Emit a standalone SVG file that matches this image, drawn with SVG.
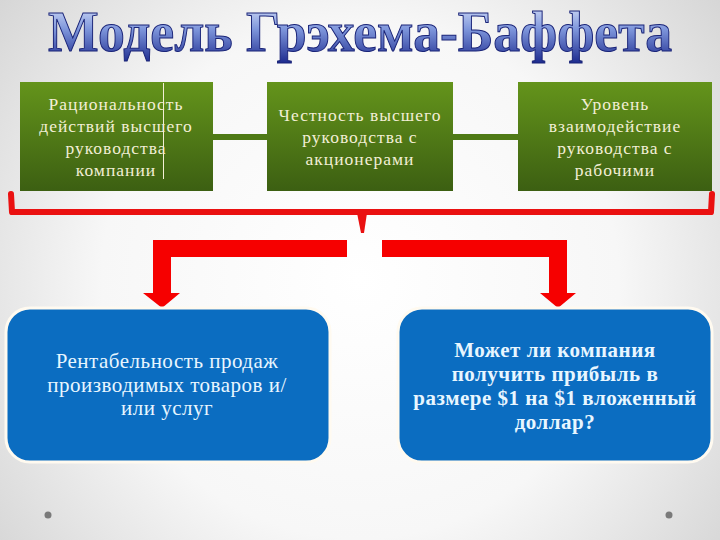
<svg xmlns="http://www.w3.org/2000/svg" width="720" height="540" viewBox="0 0 720 540">
<defs>
<radialGradient id="bg" cx="360" cy="280" r="470" gradientUnits="userSpaceOnUse">
<stop offset="0" stop-color="#ffffff"/>
<stop offset="0.55" stop-color="#f7f7f7"/>
<stop offset="1" stop-color="#d4d4d4"/>
</radialGradient>
<linearGradient id="tg" x1="0" y1="0" x2="0" y2="1">
<stop offset="0" stop-color="#dfe7fb"/>
<stop offset="0.45" stop-color="#7f97dc"/>
<stop offset="1" stop-color="#1d2b8f"/>
</linearGradient>
<linearGradient id="gg" x1="0" y1="0" x2="0" y2="1">
<stop offset="0" stop-color="#64941b"/>
<stop offset="1" stop-color="#3c5f12"/>
</linearGradient>
<style>
.title{font-family:"Liberation Serif",serif;font-weight:bold;font-size:56px;fill:url(#tg);stroke:#1a2478;stroke-width:1}
.gbox{fill:url(#gg)}
.gt{font-family:"Liberation Serif",serif;font-size:17.5px;fill:#f3efd6;text-anchor:middle;letter-spacing:1px}
.bbox{fill:#0b6dc1;stroke:#fffaf0;stroke-width:3}
.bt{font-family:"Liberation Serif",serif;font-size:21px;fill:#e8f6ff;text-anchor:middle;letter-spacing:0.5px}
.bold{font-weight:bold}
.gl{fill:#4f7a16}
.red{fill:#f60000}
.brk{fill:none;stroke:#ea1111;stroke-width:6;stroke-linejoin:round;stroke-linecap:round}
.dot{fill:#7a7a7a}
</style>
</defs>
<rect width="720" height="540" fill="url(#bg)"/>
<g id="title">
<text class="title" x="360" y="51" text-anchor="middle" textLength="624" lengthAdjust="spacingAndGlyphs">Модель Грэхема-Баффета</text>
</g>
<g id="connectors">
<rect class="gl" x="213" y="134" width="54" height="6"/>
<rect class="gl" x="453" y="134" width="65" height="6"/>
<path class="brk" d="M11,194 L12,212 L711,212 L712,194"/>
<polygon fill="#ea1111" points="357,213 367,213 364,233 361,233"/>
<polygon class="red" points="347,240 153,240 153,293 143,293 162,308 180,293 171,293 171,257 347,257"/>
<polygon class="red" points="382,240 567,240 567,293 576,293 558,308 540,293 549,293 549,257 382,257"/>
</g>
<g id="node-rationality">
<rect class="gbox" x="20" y="82" width="193" height="109"/>
<line x1="163.5" y1="83" x2="163.5" y2="179" stroke="#f3efd6" stroke-width="1"/>
<text class="gt" x="116" y="110">Рациональность</text>
<text class="gt" x="116" y="132">действий высшего</text>
<text class="gt" x="116" y="154">руководства</text>
<text class="gt" x="116" y="176">компании</text>
</g>
<g id="node-honesty">
<rect class="gbox" x="267" y="82" width="186" height="109"/>
<text class="gt" x="360" y="121">Честность высшего</text>
<text class="gt" x="360" y="143">руководства с</text>
<text class="gt" x="360" y="165">акционерами</text>
</g>
<g id="node-interaction">
<rect class="gbox" x="518" y="82" width="194" height="109"/>
<text class="gt" x="615" y="110">Уровень</text>
<text class="gt" x="615" y="132">взаимодействие</text>
<text class="gt" x="615" y="154">руководства с</text>
<text class="gt" x="615" y="176">рабочими</text>
</g>
<g id="node-profitability">
<rect class="bbox" x="6" y="308" width="324" height="154" rx="24"/>
<text class="bt" x="167" y="368">Рентабельность продаж</text>
<text class="bt" x="167" y="392">производимых товаров и/</text>
<text class="bt" x="167" y="415">или услуг</text>
</g>
<g id="node-dollar">
<rect class="bbox" x="398" y="308" width="314" height="154" rx="24"/>
<text class="bt bold" x="555" y="357">Может ли компания</text>
<text class="bt bold" x="555" y="381">получить прибыль в</text>
<text class="bt bold" x="555" y="405">размере $1 на $1 вложенный</text>
<text class="bt bold" x="555" y="429">доллар?</text>
</g>
<g id="bullets">
<circle class="dot" cx="48" cy="515" r="3.5"/>
<circle class="dot" cx="669" cy="515" r="3.5"/>
</g>
</svg>
